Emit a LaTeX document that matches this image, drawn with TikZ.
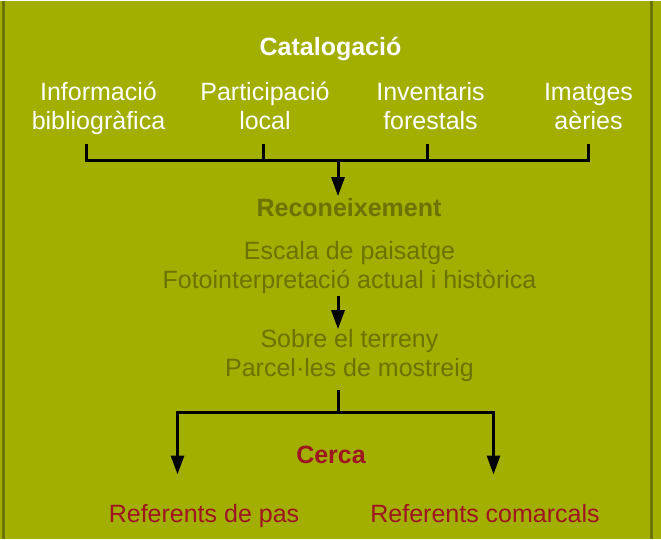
\documentclass[tikz,border=0pt]{standalone}
\usepackage{fontspec}
\setmainfont{Liberation Sans}
\usetikzlibrary{arrows.meta}
\definecolor{olivebg}{RGB}{162,174,0}
\definecolor{oliveedge}{RGB}{106,118,0}
\definecolor{olivetext}{RGB}{108,115,0}
\definecolor{cercared}{RGB}{158,22,32}
\begin{document}
\begin{tikzpicture}[x=1pt, y=-1pt,
		every node/.style={font=\fontsize{25}{29}\selectfont, inner sep=2pt, align=center, anchor=base},
		heading/.style={font=\fontsize{25}{29}\selectfont\bfseries},
		source/.style={text=white},
		step1/.style={text=olivetext},
		step2/.style={text=cercared},
		bar/.style={line width=3pt, black},
		arr/.style={line width=3pt, black, -{Triangle[width=13pt, length=19pt]}}
		]
		
		\fill[olivebg] (0,0) rectangle (661,537);
		\draw[oliveedge, line width=3pt] (3.5,0) -- (3.5,537) (651.5,0) -- (651.5,537);
		
		\node[heading, source] (catalog) at (330.5,54) {Catalogació};
		\node[source] (info) at (98.5,128) {Informació\\bibliogràfica};
		\node[source] (partic) at (265,128) {Participació\\local};
		\node[source] (invent) at (430.5,128) {Inventaris\\forestals};
		\node[source] (imatges) at (588.5,128) {Imatges\\aèries};
		
		\node[heading, step1] (recon) at (349,215) {Reconeixement};
		\node[step1] (escala) at (349.5,287) {Escala de paisatge\\Fotointerpretació actual i històrica};
		\node[step1] (terreny) at (349.5,375) {Sobre el terreny\\Parcel·les de mostreig};
		
		\node[heading, step2] (cerca) at (331,462) {Cerca};
		\node[step2] (pas) at (204,521) {Referents de pas};
		\node[step2] (comarcals) at (485,521) {Referents comarcals};
		
		\coordinate (t1) at (86,143);
		\coordinate (t2) at (263,143);
		\coordinate (t3) at (427.5,143);
		\coordinate (t4) at (588,143);
		\coordinate (j1) at (338,159.5);
		\coordinate (j2) at (338,410.5);
		\coordinate (a1) at (177.5,473);
		\coordinate (a2) at (493.5,473);
		
		\draw[bar] (t1) |- (j1) -| (t4);
		\draw[bar] (t2) -- (t2 |- j1);
		\draw[bar] (t3) -- (t3 |- j1);
		\draw[arr] (j1) -- (j1 |- recon.north);
		\draw[arr, shorten >=-2pt] (escala.south -| j1) -- (terreny.north -| j1);
		\draw[bar, shorten <=6pt] (terreny.south -| j2) -- (j2);
		\draw[arr] (j2) -| (a1);
		\draw[arr] (j2) -| (a2);
		
	\end{tikzpicture}
\end{document}
